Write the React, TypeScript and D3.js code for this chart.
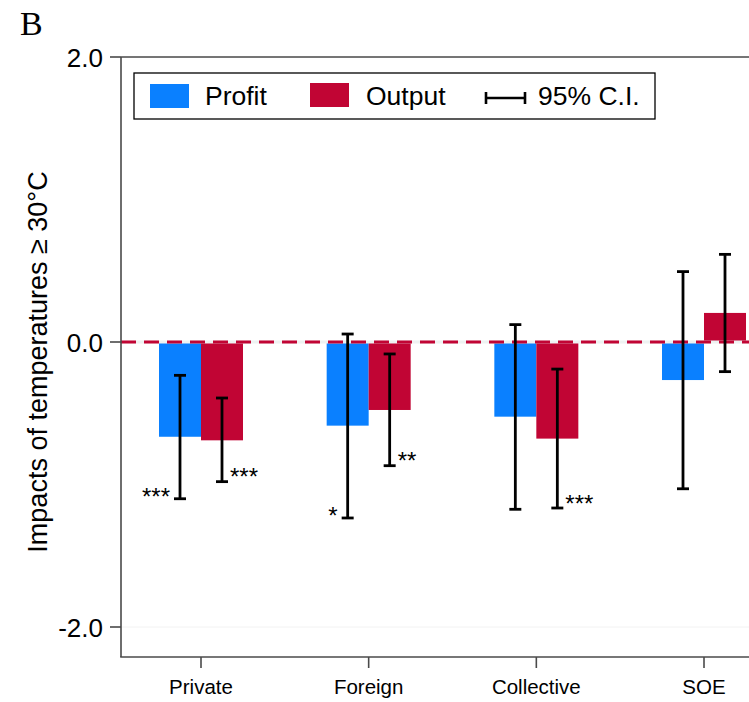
import React from "react";
import * as d3 from "d3";

const categories = ["Private", "Foreign", "Collective", "SOE"];
const profit = [-0.665, -0.587, -0.524, -0.267];
const profitLo = [-1.1, -1.235, -1.174, -1.03];
const profitHi = [-0.234, 0.056, 0.122, 0.494];
const output = [-0.69, -0.477, -0.678, 0.204];
const outputLo = [-0.98, -0.868, -1.165, -0.208];
const outputHi = [-0.393, -0.084, -0.19, 0.615];
const profitStars = ["***", "*", "", ""];
const outputStars = ["***", "**", "***", ""];
const yTicks = [2, 0, -2];
const yTickLabels = ["2.0", "0.0", "-2.0"];
const legendLabels = ["Profit", "Output", "95% C.I."];

const BLUE = "#0A80FF";
const RED = "#C10534";
const AXIS = "#4a4a4a";
const FONT = "'Liberation Sans', Arial, Helvetica, sans-serif";

export default function App() {
  const W = 749;
  const H = 702;
  const left = 121;
  const top = 57;
  const bottom = 657;
  const y = d3.scaleLinear().domain([-2, 2]).range([627, 57]);
  const x = d3.scalePoint<string>().domain(categories).range([201, 704]);
  const bw = 42;

  const series = [
    { vals: profit, lo: profitLo, hi: profitHi, stars: profitStars, color: BLUE, off: -bw / 2, side: -1 },
    { vals: output, lo: outputLo, hi: outputHi, stars: outputStars, color: RED, off: bw / 2, side: 1 },
  ];

  return (
    <svg
      width={W}
      height={H}
      style={{ position: "absolute", left: 0, top: 0, background: "#fff" }}
      fontFamily={FONT}
    >
      <rect x={0} y={0} width={W} height={H} fill="#fff" />
      {/* panel label */}
      <text x={20} y={35} fontFamily="'Liberation Serif', 'Times New Roman', serif" fontSize={34}>
        B
      </text>

      {/* faint gridlines */}
      {yTicks.map((t) => (
        <line key={"g" + t} x1={left} x2={W} y1={y(t)} y2={y(t)} stroke="#f2f2f2" strokeWidth={1} />
      ))}

      {/* bars */}
      {series.map((s, si) =>
        categories.map((c, i) => {
          const cx = (x(c) as number) + s.off;
          const v = s.vals[i];
          return (
            <rect
              key={"b" + si + i}
              x={cx - bw / 2}
              y={Math.min(y(v), y(0))}
              width={bw}
              height={Math.abs(y(v) - y(0))}
              fill={s.color}
            />
          );
        })
      )}

      {/* zero dashed line */}
      <line x1={left} x2={W} y1={y(0)} y2={y(0)} stroke="#eef2f2" strokeWidth={3} />
      <line
        x1={left}
        x2={W}
        y1={y(0)}
        y2={y(0)}
        stroke={RED}
        strokeWidth={3}
        strokeDasharray="15 8"
      />

      {/* error bars */}
      {series.map((s, si) =>
        categories.map((c, i) => {
          const cx = (x(c) as number) + s.off;
          const yl = y(s.lo[i]);
          const yh = y(s.hi[i]);
          return (
            <g key={"e" + si + i} stroke="#000" strokeWidth={2.8}>
              <line x1={cx} x2={cx} y1={yh} y2={yl} />
              <line x1={cx - 6} x2={cx + 6} y1={yh} y2={yh} />
              <line x1={cx - 6} x2={cx + 6} y1={yl} y2={yl} />
            </g>
          );
        })
      )}

      {/* significance stars */}
      {series.map((s, si) =>
        categories.map((c, i) => {
          if (!s.stars[i]) return null;
          const cx = (x(c) as number) + s.off;
          const yl = y(s.lo[i]);
          const dy = s.side < 0 ? -7 : -10;
          return (
            <text
              key={"s" + si + i}
              x={s.side < 0 ? cx - 10 : cx + 8}
              y={yl + dy + 13.5}
              textAnchor={s.side < 0 ? "end" : "start"}
              fontSize={24}
              fill="#000"
            >
              {s.stars[i]}
            </text>
          );
        })
      )}

      {/* axes */}
      <line x1={left} x2={left} y1={top} y2={bottom} stroke={AXIS} strokeWidth={1.6} />
      <line x1={left - 0.8} x2={W} y1={bottom} y2={bottom} stroke={AXIS} strokeWidth={1.6} />
      <line x1={left} x2={W} y1={top} y2={top} stroke={AXIS} strokeWidth={1.6} />
      {yTicks.map((t, i) => (
        <g key={"yt" + t}>
          <line x1={left - 11} x2={left} y1={y(t)} y2={y(t)} stroke={AXIS} strokeWidth={1.6} />
          <text x={103} y={y(t) + 9.5} textAnchor="end" fontSize={26} fill="#000">
            {yTickLabels[i]}
          </text>
        </g>
      ))}
      {categories.map((c) => (
        <g key={"xt" + c}>
          <line x1={x(c)} x2={x(c)} y1={bottom} y2={bottom + 11} stroke={AXIS} strokeWidth={1.6} />
          <text x={x(c)} y={694} textAnchor="middle" fontSize={20.5} fill="#000">
            {c}
          </text>
        </g>
      ))}

      {/* y title */}
      <text
        transform={`translate(47, 362) rotate(-90)`}
        textAnchor="middle"
        fontSize={27}
        fill="#000"
      >
        Impacts of temperatures ≥ 30°C
      </text>

      {/* legend */}
      <rect x={134} y={73} width={521} height={46} fill="#fff" stroke="#000" strokeWidth={1.3} />
      <rect x={150} y={84} width={39} height={24} fill={BLUE} />
      <text x={205} y={105} fontSize={26.5} fill="#000">
        {legendLabels[0]}
      </text>
      <rect x={310} y={83} width={39} height={24} fill={RED} />
      <text x={366} y={105} fontSize={26.5} fill="#000">
        {legendLabels[1]}
      </text>
      <g stroke="#000" strokeWidth={2.6}>
        <line x1={486} x2={525} y1={98} y2={98} />
        <line x1={486} x2={486} y1={92} y2={104} />
        <line x1={525} x2={525} y1={92} y2={104} />
      </g>
      <text x={538} y={105} fontSize={26.5} fill="#000">
        {legendLabels[2]}
      </text>
    </svg>
  );
}
